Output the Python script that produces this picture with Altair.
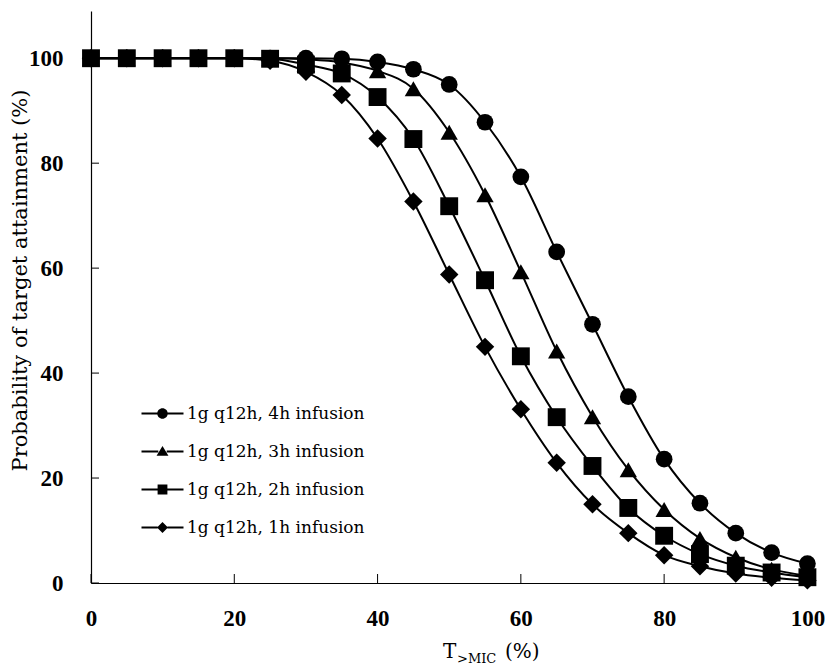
import altair as alt
import pandas as pd

# ---- data ----
t_mic = [0, 5, 10, 15, 20, 25, 30, 35, 40, 45, 50, 55, 60, 65, 70, 75, 80, 85, 90, 95, 100]
series_names = [
    "1g q12h, 4h infusion",
    "1g q12h, 3h infusion",
    "1g q12h, 2h infusion",
    "1g q12h, 1h infusion",
]
inf_4h = [100, 100, 100, 100, 100, 100, 100, 99.9, 99.3, 97.9, 95.0, 87.8, 77.4, 63.1, 49.3, 35.5, 23.6, 15.2, 9.5, 5.8, 3.7]
inf_3h = [100, 100, 100, 100, 100, 100, 99.8, 99.2, 97.6, 94.2, 85.9, 74.0, 59.3, 44.2, 31.7, 21.6, 14.0, 8.5, 4.9, 2.6, 1.4]
inf_2h = [100, 100, 100, 100, 100, 99.9, 98.8, 97.1, 92.6, 84.6, 71.8, 57.7, 43.2, 31.6, 22.3, 14.3, 9.0, 5.5, 3.3, 2.0, 1.1]
inf_1h = [100, 100, 100, 100, 100, 99.5, 97.4, 93.0, 84.7, 72.7, 58.8, 45.0, 33.1, 22.9, 15.0, 9.5, 5.3, 3.2, 1.8, 1.0, 0.5]
x_ticks = [0, 20, 40, 60, 80, 100]
y_ticks = [0, 20, 40, 60, 80, 100]

rows = []
for order, (name, vals) in enumerate(zip(series_names, [inf_4h, inf_3h, inf_2h, inf_1h])):
    for t, v in zip(t_mic, vals):
        rows.append({"t": t, "p": v, "series": name, "ord": 3 - order})
df = pd.DataFrame(rows)

W, H = 720, 572
x_scale = alt.Scale(domain=[0, 100.5], nice=False, zero=False)
y_scale = alt.Scale(domain=[0, 109], nice=False)

x_axis = alt.Axis(
    title=None, values=x_ticks, ticks=False, grid=False,
    labelFont="Liberation Serif", labelFontWeight="bold", labelFontSize=23,
    labelColor="black", labelPadding=24, labelFlush=False,
    domainColor="black", domainWidth=1.2,
)
y_axis = alt.Axis(
    title="Probability of target attainment (%)", values=y_ticks, ticks=False, grid=False,
    labelFont="Liberation Serif", labelFontWeight="bold", labelFontSize=23,
    labelColor="black", labelPadding=28,
    domainColor="black", domainWidth=1.2,
    titleFont="DejaVu Serif", titleFontSize=21, titleFontWeight="normal",
    titleColor="black", titleAngle=270, titleX=-71, titleY=269,
    titleAlign="center", titleBaseline="middle",
)

X = alt.X("t:Q", scale=x_scale, axis=x_axis)
Y = alt.Y("p:Q", scale=y_scale, axis=y_axis)

lines = alt.Chart(df).mark_line(color="black", strokeWidth=2, interpolate="monotone").encode(
    x=X, y=Y, detail="series:N"
)

points = alt.Chart(df).mark_point(filled=True, color="black", opacity=1).encode(
    x=X, y=Y,
    shape=alt.Shape("series:N", scale=alt.Scale(domain=series_names,
                                                 range=["circle", "triangle-up", "square", "diamond"]),
                    legend=None),
    size=alt.Size("series:N", scale=alt.Scale(domain=series_names, range=[280, 340, 260, 300]),
                  legend=None),
    order=alt.Order("ord:Q"),
)

# legend symbols: short line with the marker in the middle (filled shapes only)
seg_l = "M-1,-0.14H{a}V0.14H-1Z"
seg_r = "M{b},-0.14H5V0.14H{b}Z"
legend_paths = [
    seg_l.format(a=1.3) + seg_r.format(b=2.7) + "M1.25,0A0.75,0.75,0,1,1,2.75,0A0.75,0.75,0,1,1,1.25,0Z",
    seg_l.format(a=1.4) + seg_r.format(b=2.6) + "M2,-0.8L2.85,0.6L1.15,0.6Z",
    seg_l.format(a=1.3) + seg_r.format(b=2.7) + "M1.3,-0.7H2.7V0.7H1.3Z",
    seg_l.format(a=1.3) + seg_r.format(b=2.7) + "M2,-0.78L2.78,0L2,0.78L1.22,0Z",
]
legend_layer = alt.Chart(df).transform_filter("datum.t < 0").mark_point(
    filled=True, color="black", opacity=1
).encode(
    x=X, y=Y,
    shape=alt.Shape(
        "series:N",
        scale=alt.Scale(domain=series_names, range=legend_paths),
        legend=alt.Legend(
            title=None, orient="none", legendX=49, legendY=394, direction="vertical",
            labelFont="DejaVu Serif", labelFontSize=17, labelColor="black", labelLimit=0,
            symbolSize=196, symbolFillColor="black", symbolOpacity=1,
            labelOffset=30, rowPadding=20, padding=0,
        ),
    ),
)

ytick_df = pd.DataFrame({"t": [0] * len(y_ticks), "p": y_ticks})
xtick_df = pd.DataFrame({"t": x_ticks, "p": [0] * len(x_ticks)})
yticks = alt.Chart(ytick_df).mark_rule(color="black", strokeWidth=1).encode(
    y=Y, x=alt.value(0), x2=alt.value(8)
)
xticks = alt.Chart(xtick_df).mark_rule(color="black", strokeWidth=1).encode(
    x=X, y=alt.value(H), y2=alt.value(H - 9)
)

title_main = alt.Chart(pd.DataFrame({"s": ["T"]})).mark_text(
    font="DejaVu Serif", fontSize=20, align="left", baseline="alphabetic", color="black"
).encode(text="s:N", x=alt.value(352), y=alt.value(647))
title_sub = alt.Chart(pd.DataFrame({"s": [">MIC"]})).mark_text(
    font="DejaVu Serif", fontSize=13, align="left", baseline="alphabetic", color="black"
).encode(text="s:N", x=alt.value(366), y=alt.value(652))
title_pct = alt.Chart(pd.DataFrame({"s": ["(%)"]})).mark_text(
    font="DejaVu Serif", fontSize=20, align="left", baseline="alphabetic", color="black"
).encode(text="s:N", x=alt.value(414), y=alt.value(647))

chart = alt.layer(
    lines, points, legend_layer, yticks, xticks, title_main, title_sub, title_pct
).resolve_scale(
    shape="independent", size="independent"
).resolve_legend(
    shape="independent"
).properties(
    width=W, height=H,
    padding={"left": 83, "top": 3, "right": 14, "bottom": 82},
    autosize=alt.AutoSizeParams(type="none"),
    background="white",
).configure_view(stroke=None)

chart.save("out.html", embed_options={"renderer": "svg", "actions": False})
